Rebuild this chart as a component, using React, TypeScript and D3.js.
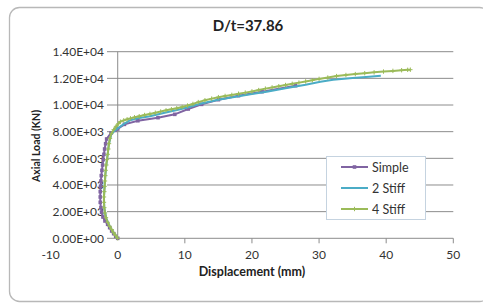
import * as React from 'react';
import * as d3 from 'd3';

type Pt = [number, number];

const chartTitle = 'D/t=37.86';
const xTitle = 'Displacement (mm)';
const yTitle = 'Axial Load (KN)';
const xTicks = [-10, 0, 10, 20, 30, 40, 50];
const yTicks = [0, 2000, 4000, 6000, 8000, 10000, 12000, 14000];
const seriesNames = ['Simple', '2 Stiff', '4 Stiff'];
const seriesColors = ['#8064A2', '#4BACC6', '#9BBB59'];

// displacement (mm), axial load (kN)
const simple: Pt[] = [
    [0, 0], [-0.3, 150], [-0.6, 350], [-0.9, 550], [-1.2, 800], [-1.5, 1050], [-1.9, 1300],
    [-2.2, 1600], [-2.4, 1950], [-2.5, 2300], [-2.6, 2700], [-2.6, 3100], [-2.6, 3500],
    [-2.55, 3900], [-2.5, 4300], [-2.45, 4700], [-2.35, 5100], [-2.25, 5500], [-2.15, 5900],
    [-2.05, 6300], [-1.95, 6700], [-1.8, 7100], [-1.65, 7450], [-1.0, 7900], [-0.4, 8100],
    [0, 8200], [1, 8550], [3, 8820], [6, 9050], [8.5, 9300], [10.5, 9700],
    [12.5, 10050], [15, 10400], [18, 10700], [21.5, 11000], [26.5, 11450]
];

const stiff2: Pt[] = [
    [0, 0], [-0.6, 400], [-1.2, 900], [-1.7, 1500], [-2.0, 2300], [-2.05, 3100],
    [-1.95, 3900], [-1.85, 4700], [-1.7, 5500], [-1.5, 6300], [-1.3, 7100], [-0.95, 7800],
    [-0.4, 8100], [0, 8250], [1, 8600], [1.8, 8850], [3, 9000], [4.8, 9150], [7, 9420],
    [9, 9650], [10.8, 9870], [12.3, 10100], [15, 10400], [18, 10650], [20, 10820],
    [22.2, 11000], [25, 11250], [28, 11520], [30.2, 11750], [32.1, 11900], [35, 12020],
    [37, 12110], [39.2, 12200]
];

const stiff4: Pt[] = [
    [0, 0], [-0.3, 200], [-0.6, 400], [-0.9, 650], [-1.2, 900], [-1.5, 1200], [-1.75, 1550],
    [-1.9, 1900], [-2.0, 2300], [-2.05, 2700], [-2.05, 3100], [-2.0, 3500], [-1.95, 3900],
    [-1.9, 4300], [-1.85, 4700], [-1.8, 5100], [-1.7, 5500], [-1.6, 5900], [-1.5, 6300],
    [-1.4, 6700], [-1.3, 7100], [-1.15, 7500], [-0.95, 7850], [-0.6, 8150], [-0.25, 8400],
    [0.1, 8600], [0.4, 8750], [0.9, 8850], [1.4, 8930], [1.9, 9000], [2.5, 9080],
    [3.2, 9160], [4.0, 9250], [4.8, 9330], [5.6, 9420], [6.4, 9510], [7.2, 9600],
    [8.0, 9680], [8.8, 9760], [9.6, 9850], [10.4, 9960], [11.2, 10080], [12.0, 10220],
    [13.0, 10360], [14.0, 10480], [15.0, 10590], [16.0, 10680], [17.0, 10760], [18.0, 10850],
    [19.0, 10930], [20.0, 11020], [21.0, 11120], [22.0, 11230], [23.0, 11320], [24.0, 11410],
    [25.0, 11500], [26.0, 11590], [27.0, 11680], [28.0, 11770], [29.0, 11860], [30.0, 11960],
    [31.3, 12060], [32.6, 12170], [34.0, 12250], [35.4, 12320], [36.8, 12390], [38.2, 12450],
    [39.6, 12510], [41.0, 12560], [42.3, 12610], [43.2, 12640], [43.6, 12650]
];

const width = 483;
const height = 304;
const plot = { left: 50.6, right: 453.3, top: 51.7, bottom: 238.3 };
const font = 'Lato, "Open Sans", sans-serif';

class App extends React.Component<object, object> {
    private svgElement: SVGSVGElement | null = null;

    render() {
        return <svg
            ref={node => { this.svgElement = node; }}
            width={width}
            height={height}
            style={{ position: 'absolute', left: 0, top: 0, background: '#fff' }}>
        </svg>;
    }

    componentDidMount() {
        this.drawChart();
    }

    private drawChart() {
        const svg = d3.select(this.svgElement);
        svg.selectAll('*').remove();

        const xScale = d3.scaleLinear().domain([-10, 50]).range([plot.left, plot.right]);
        const yScale = d3.scaleLinear().domain([0, 14000]).range([plot.bottom, plot.top]);

        // outer frame
        svg.append('rect')
            .attr('x', 9.5).attr('y', 7.5)
            .attr('width', 480).attr('height', 294)
            .attr('rx', 10)
            .style('fill', '#fff')
            .style('stroke', '#b8b8b8')
            .style('stroke-width', 1.3);

        svg.append('text')
            .attr('x', 248).attr('y', 31)
            .attr('text-anchor', 'middle')
            .style('font-family', font)
            .style('font-weight', 'bold')
            .style('font-size', '15px')
            .style('fill', '#222')
            .text(chartTitle);

        // horizontal gridlines
        svg.append('g').selectAll('line')
            .data(yTicks)
            .enter()
            .append('line')
            .attr('x1', plot.left).attr('x2', plot.right)
            .attr('y1', d => yScale(d)).attr('y2', d => yScale(d))
            .style('stroke', '#8c8c8c')
            .style('stroke-width', 1);

        // vertical axis at x = 0
        svg.append('line')
            .attr('x1', xScale(0)).attr('x2', xScale(0))
            .attr('y1', yScale(0)).attr('y2', yScale(14000))
            .style('stroke', '#8c8c8c');

        // x tick marks
        svg.append('g').selectAll('line')
            .data(xTicks.filter(d => d > 0))
            .enter()
            .append('line')
            .attr('x1', d => xScale(d)).attr('x2', d => xScale(d))
            .attr('y1', yScale(0)).attr('y2', yScale(0) + 5)
            .style('stroke', '#8c8c8c');

        svg.append('g').selectAll('text')
            .data(xTicks)
            .enter()
            .append('text')
            .attr('x', d => xScale(d))
            .attr('y', 258.5)
            .attr('text-anchor', 'middle')
            .style('font-family', font)
            .style('font-size', '12px')
            .style('fill', '#333')
            .text(d => String(d));

        // y tick labels with white backing
        const yLab = svg.append('g');
        yLab.selectAll('rect')
            .data(yTicks)
            .enter()
            .append('rect')
            .attr('x', 48).attr('width', 59)
            .attr('y', d => yScale(d) - 6).attr('height', 12)
            .style('fill', '#fff');
        yLab.selectAll('text')
            .data(yTicks)
            .enter()
            .append('text')
            .attr('x', 104)
            .attr('y', d => yScale(d))
            .attr('dy', '0.36em')
            .attr('text-anchor', 'end')
            .style('font-family', font)
            .style('font-size', '12px')
            .style('fill', '#333')
            .text(d => d.toExponential(2).toUpperCase().replace(/E([+-])(\d)$/, 'E$10$2'));

        svg.append('text')
            .attr('x', 252).attr('y', 276)
            .attr('text-anchor', 'middle')
            .style('font-family', font)
            .style('font-weight', 'bold')
            .style('font-size', '12.5px')
            .style('fill', '#222')
            .text(xTitle);

        svg.append('text')
            .attr('transform', 'translate(40,146) rotate(-90)')
            .attr('text-anchor', 'middle')
            .style('font-family', font)
            .style('font-weight', 'bold')
            .style('font-size', '10.5px')
            .style('fill', '#222')
            .text(yTitle);

        const line = d3.line<Pt>()
            .x(d => xScale(d[0]))
            .y(d => yScale(d[1]));

        svg.append('path')
            .datum(simple)
            .attr('d', line)
            .style('fill', 'none')
            .style('stroke', seriesColors[0])
            .style('stroke-width', 2);

        svg.append('g').selectAll('rect')
            .data(simple)
            .enter()
            .append('rect')
            .attr('x', d => xScale(d[0]) - 1.8)
            .attr('y', d => yScale(d[1]) - 1.8)
            .attr('width', 3.6).attr('height', 3.6)
            .style('fill', seriesColors[0]);

        [stiff2, stiff4].forEach((data, i) => {
            svg.append('path')
                .datum(data)
                .attr('d', line)
                .style('fill', 'none')
                .style('stroke', seriesColors[i + 1])
                .style('stroke-width', 2);
        });

        svg.append('g').selectAll('path')
            .data(stiff4)
            .enter()
            .append('path')
            .attr('d', 'M-2.2,0H2.2M0,-2.2V2.2')
            .attr('transform', d => `translate(${xScale(d[0])},${yScale(d[1])})`)
            .style('stroke', seriesColors[2])
            .style('stroke-width', 1)
            .style('fill', 'none');

        // legend
        const legend = svg.append('g');
        legend.append('rect')
            .attr('x', 326.5).attr('y', 156.5)
            .attr('width', 99).attr('height', 63)
            .style('fill', '#fff')
            .style('stroke', '#c5d3e0');

        const rowY = [167, 188, 209];
        seriesNames.forEach((name, i) => {
            legend.append('line')
                .attr('x1', 341).attr('x2', 368)
                .attr('y1', rowY[i]).attr('y2', rowY[i])
                .style('stroke', seriesColors[i])
                .style('stroke-width', 2);
            if (i === 0) {
                legend.append('rect')
                    .attr('x', 352.7).attr('y', rowY[i] - 1.8)
                    .attr('width', 3.6).attr('height', 3.6)
                    .style('fill', seriesColors[0]);
            }
            if (i === 2) {
                legend.append('path')
                    .attr('d', 'M-2.2,0H2.2M0,-2.2V2.2')
                    .attr('transform', `translate(354.5,${rowY[i]})`)
                    .style('stroke', seriesColors[2])
                    .style('stroke-width', 1);
            }
            legend.append('text')
                .attr('x', 372)
                .attr('y', rowY[i])
                .attr('dy', '0.36em')
                .style('font-family', font)
                .style('font-size', '12.5px')
                .style('fill', '#333')
                .text(name);
        });
    }
}

export default App;
